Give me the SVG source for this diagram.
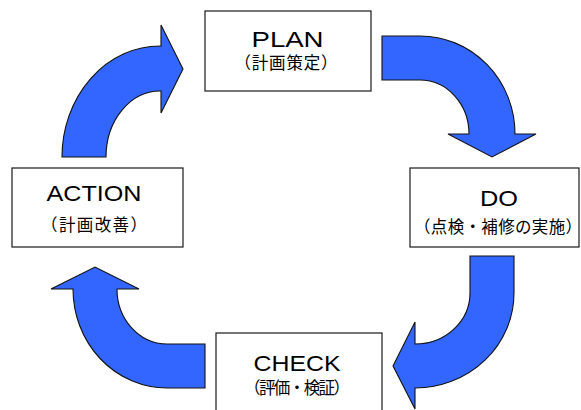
<svg xmlns="http://www.w3.org/2000/svg" width="581" height="410" viewBox="0 0 581 410">
<style>
.box{fill:#fff;stroke:#1a1a1a;stroke-width:1.2}
.arrow{fill:#3366ff;stroke:#111;stroke-width:1.1;stroke-linejoin:miter}
.t{font-family:"Liberation Sans","Noto Sans CJK JP",sans-serif;font-size:21.5px;fill:#000;text-anchor:middle}
.s{font-family:"Noto Sans CJK JP","Noto Sans CJK SC",sans-serif;font-size:16.5px;fill:#000;text-anchor:middle}
</style>
<rect width="581" height="410" fill="#fff"/>
<g id="connectors">
<path class="arrow" d="M62,157 A98,111 0 0 1 160,46 L161,46 L161,25 L183,69 L161,113 L161,91 L160,91 A54,66 0 0 0 106,157 Z"/>
<path class="arrow" d="M382,36 L420,36 A95,98 0 0 1 515,134 L536,134 L492,157 L448,134 L469,134 A49,54 0 0 0 420,80 L382,80 Z"/>
<path class="arrow" d="M470,256 L514,256 L514,293 A99,95 0 0 1 415,388 L415,409 L393,366 L415,322 L415,344 A55,51 0 0 0 470,293 Z"/>
<path class="arrow" d="M205,344 L205,388 L167,388 A94,99 0 0 1 73,289 L51,289 L95,267 L139,289 L117,289 A50,55 0 0 0 167,344 Z"/>
</g>
<g id="plan">
<rect class="box" x="205" y="11" width="166" height="80"/>
<text class="t" x="287.5" y="47" textLength="72" lengthAdjust="spacingAndGlyphs">PLAN</text>
<text class="s" x="286" y="69" textLength="103" lengthAdjust="spacing">（計画策定）</text>
</g>
<g id="do">
<rect class="box" x="410" y="168" width="169" height="79"/>
<text class="t" x="499" y="206" textLength="38" lengthAdjust="spacingAndGlyphs">DO</text>
<text class="s" x="498" y="233" textLength="168" lengthAdjust="spacing">（点検・補修の実施）</text>
</g>
<g id="check">
<rect class="box" x="216" y="333" width="166" height="90"/>
<text class="t" x="297" y="371" textLength="87" lengthAdjust="spacingAndGlyphs">CHECK</text>
<text class="s" x="297" y="394" textLength="106" lengthAdjust="spacing">（評価・検証）</text>
</g>
<g id="action">
<rect class="box" x="12" y="168" width="171" height="79"/>
<text class="t" x="94" y="201" textLength="95" lengthAdjust="spacingAndGlyphs">ACTION</text>
<text class="s" x="94" y="231" textLength="106" lengthAdjust="spacing">（計画改善）</text>
</g>
</svg>
